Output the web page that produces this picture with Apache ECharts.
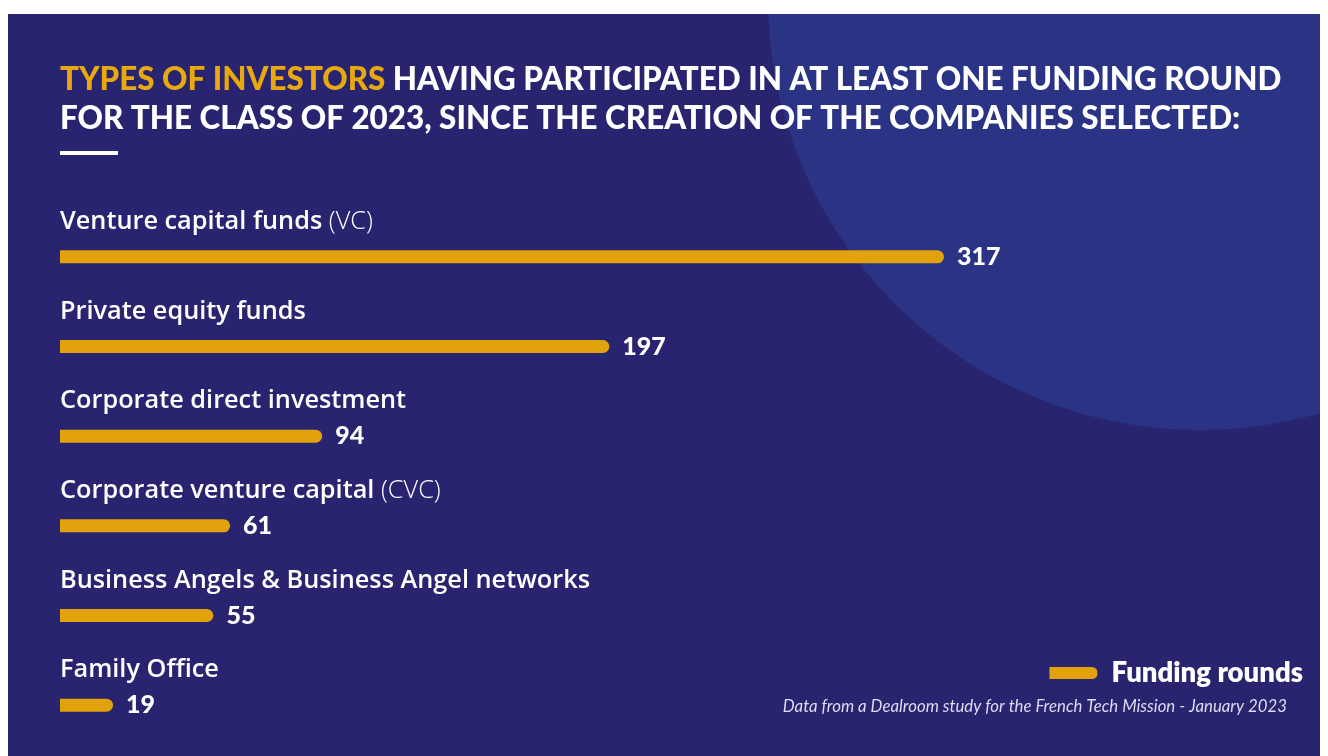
<!DOCTYPE html>
<html>
<head>
<meta charset="utf-8">
<title>Types of investors – Class of 2023</title>
<script src="https://cdn.jsdelivr.net/npm/echarts@6/dist/echarts.min.js"></script>
<style>
  html, body { margin: 0; padding: 0; background: #ffffff; }
  #chart { width: 1328px; height: 756px; }
</style>
</head>
<body>
<div id="chart"></div>
<script>
// Investor types and number of funding rounds they took part in
const categories = [
  'Venture capital funds (VC)',
  'Private equity funds',
  'Corporate direct investment',
  'Corporate venture capital (CVC)',
  'Business Angels & Business Angel networks',
  'Family Office'
];
const fundingRounds = [317, 197, 94, 61, 55, 19];
const seriesName = 'Funding rounds';

const NAVY = '#29246f';
const DISC = '#2b3484';
const GOLD = '#e1a20b';
const FONT = 'Lato, "Noto Sans", sans-serif';
const LABEL_FONT = '"Open Sans", "Noto Sans", sans-serif';

const chart = echarts.init(document.getElementById('chart'), null, { renderer: 'canvas' });

// Category names: the part in parentheses is set in a lighter weight
function categoryLabel(name) {
  const m = name.match(/^(.*?)\s*(\([^)]*\))$/);
  if (m) return '{main|' + m[1] + '}{abbr| ' + m[2] + '}';
  return '{main|' + name + '}';
}

const option = {
  backgroundColor: '#ffffff',
  animation: false,
  title: {
    left: 60,
    top: 60,
    padding: 0,
    text: '{hl|TYPES OF INVESTORS} HAVING PARTICIPATED IN AT LEAST ONE FUNDING ROUND\nFOR THE CLASS OF 2023, SINCE THE CREATION OF THE COMPANIES SELECTED:',
    textStyle: {
      color: '#ffffff',
      fontFamily: FONT,
      fontWeight: 900,
      fontSize: 31.4,
      lineHeight: 39,
      rich: {
        hl: { color: '#e8a90f', fontFamily: FONT, fontWeight: 900, fontSize: 31.4, lineHeight: 39 }
      }
    }
  },
  legend: {
    right: 25,
    top: 659,
    padding: 0,
    data: [seriesName],
    itemWidth: 48,
    itemHeight: 12,
    icon: 'path://M0,0L42,0Q48,0 48,6Q48,12 42,12L0,12Z',
    selectedMode: false,
    textStyle: {
      color: '#ffffff',
      fontFamily: FONT,
      fontWeight: 800,
      fontSize: 27.5,
      padding: [0, 0, 0, 9],
      textShadowColor: 'rgba(225,162,11,0.75)',
      textShadowOffsetX: 1,
      textShadowOffsetY: 1
    }
  },
  grid: { left: 60, top: 212, width: 884, height: 538, containLabel: false },
  xAxis: {
    type: 'value',
    min: 0,
    max: Math.max.apply(null, fundingRounds),
    show: false
  },
  yAxis: {
    type: 'category',
    inverse: true,
    data: categories,
    axisLine: { show: false },
    axisTick: { show: false },
    splitLine: { show: false },
    axisLabel: {
      inside: true,
      margin: 0,
      interval: 0,
      align: 'left',
      verticalAlign: 'middle',
      padding: [0, 0, 70, 0],
      formatter: categoryLabel,
      rich: {
        main: { color: '#ffffff', fontFamily: LABEL_FONT, fontWeight: 600, fontSize: 25.3, lineHeight: 28 },
        abbr: { color: '#ffffff', fontFamily: LABEL_FONT, fontWeight: 300, fontSize: 25.3, lineHeight: 28 }
      }
    }
  },
  series: [{
    name: seriesName,
    type: 'bar',
    data: fundingRounds,
    barWidth: 13,
    itemStyle: { color: GOLD, borderRadius: [0, 7, 7, 0] },
    label: {
      show: true,
      position: 'right',
      distance: 13,
      color: '#ffffff',
      fontFamily: FONT,
      fontWeight: 900,
      fontSize: 25,
      textShadowColor: 'rgba(225,162,11,0.75)',
      textShadowOffsetX: 1,
      textShadowOffsetY: 1
    }
  }],
  graphic: [
    // dark panel, lighter disc in the upper right, white frame edges on top
    { type: 'rect', z: -10, shape: { x: 8, y: 14, width: 1312, height: 742 }, style: { fill: NAVY } },
    { type: 'circle', z: -9, shape: { cx: 1200, cy: -2, r: 432 }, style: { fill: DISC } },
    { type: 'rect', z: -8, shape: { x: 0, y: 0, width: 1328, height: 14 }, style: { fill: '#ffffff' } },
    { type: 'rect', z: -8, shape: { x: 1320, y: 0, width: 8, height: 756 }, style: { fill: '#ffffff' } },
    // short rule under the heading
    { type: 'rect', z: 5, shape: { x: 60, y: 151, width: 58, height: 4 }, style: { fill: '#ffffff' } },
    // source note
    {
      type: 'text', z: 5, x: 1287, y: 707,
      style: {
        text: 'Data from a Dealroom study for the French Tech Mission - January 2023',
        fill: '#dcdcf2',
        font: 'italic 400 16.8px ' + FONT,
        align: 'right',
        verticalAlign: 'middle'
      }
    }
  ]
};

chart.setOption(option);
</script>
</body>
</html>
